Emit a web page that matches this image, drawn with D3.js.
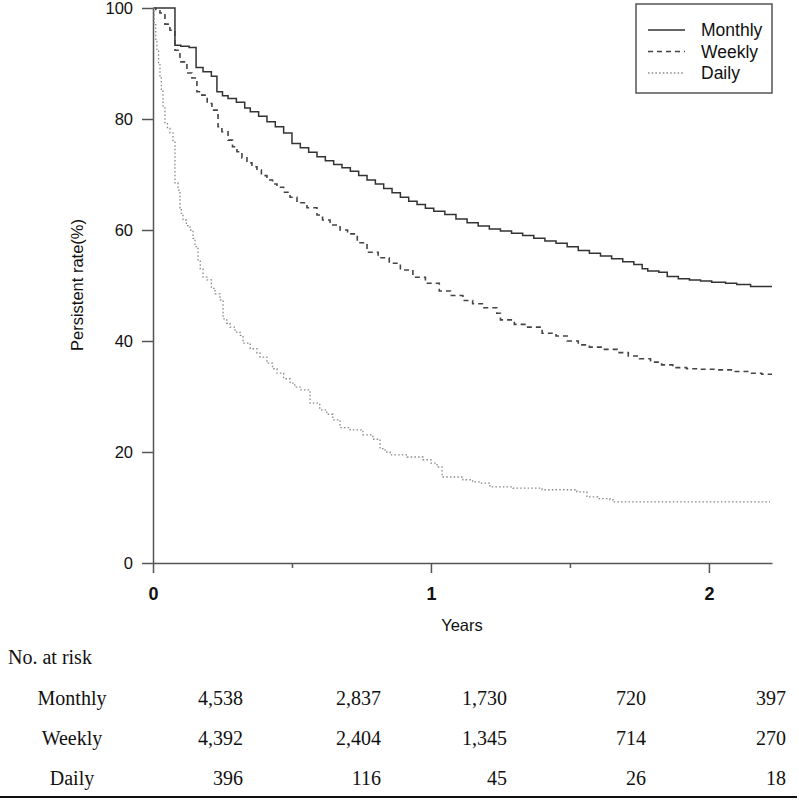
<!DOCTYPE html>
<html><head><meta charset="utf-8">
<script src="https://cdn.jsdelivr.net/npm/d3@7/dist/d3.min.js"></script>
<style>body{margin:0;background:#fff}svg{display:block}</style>
</head><body>
<svg id="c" width="799" height="806"></svg>
<script>
// Kaplan-Meier style data (time in years, persistence %)
const monthlyT = [0,0.079,0.10,0.13,0.155,0.18,0.21,0.23,0.25,0.27,0.30,0.33,0.35,0.38,0.41,0.44,0.47,0.50,0.53,0.56,0.59,0.62,0.65,0.68,0.71,0.74,0.77,0.80,0.83,0.86,0.89,0.92,0.95,0.98,1.01,1.05,1.09,1.13,1.17,1.21,1.25,1.29,1.33,1.37,1.41,1.45,1.49,1.53,1.57,1.61,1.65,1.69,1.73,1.76,1.78,1.82,1.85,1.89,1.93,1.97,2.01,2.06,2.10,2.15,2.227];
const monthlyV = [100,93.3,93.1,92.9,89.3,88.5,87.7,84.9,84.2,83.7,83.0,82.0,81.3,80.5,79.5,78.6,77.5,75.6,74.8,74.0,73.2,72.5,71.8,71.2,70.6,69.8,69.0,68.3,67.5,66.7,65.9,65.2,64.6,63.9,63.4,62.8,62.0,61.3,60.7,60.2,59.8,59.4,59.0,58.5,58.0,57.6,57.0,56.3,55.8,55.3,54.8,54.3,53.8,53.0,52.6,52.4,51.6,51.2,51.0,50.8,50.6,50.4,50.2,49.8,49.8];

const weeklyT = [0,0.01,0.025,0.043,0.061,0.079,0.097,0.122,0.14,0.158,0.176,0.195,0.212,0.234,0.248,0.27,0.286,0.302,0.32,0.338,0.356,0.374,0.39,0.41,0.43,0.446,0.47,0.493,0.518,0.554,0.59,0.61,0.637,0.673,0.70,0.735,0.77,0.81,0.85,0.89,0.935,0.98,1.03,1.07,1.115,1.15,1.19,1.237,1.25,1.30,1.345,1.40,1.45,1.49,1.53,1.57,1.62,1.67,1.71,1.75,1.79,1.83,1.87,1.92,1.97,2.03,2.09,2.15,2.19,2.227];
const weeklyV = [100,99.5,99.1,97.1,96.0,92.4,90.3,88.3,87.4,84.9,84.3,82.8,81.6,78.6,77.7,76.2,75.0,74.1,73.0,72.1,71.4,70.8,69.8,69.0,68.3,67.7,66.8,65.9,64.9,64.0,62.7,61.8,60.9,60.0,59.3,57.7,56.0,55.0,54.0,52.8,51.5,50.4,49.0,48.2,47.3,46.7,46.0,45.0,43.8,43.0,42.5,41.4,40.9,40.0,39.3,38.9,38.5,37.9,37.3,36.8,36.2,35.7,35.2,35.0,34.9,34.8,34.5,34.2,34.0,34.0];

const dailyT = [0,0.004,0.01,0.014,0.02,0.025,0.03,0.036,0.043,0.052,0.061,0.072,0.079,0.09,0.097,0.102,0.108,0.12,0.133,0.144,0.151,0.162,0.17,0.18,0.194,0.21,0.223,0.241,0.252,0.265,0.277,0.295,0.313,0.324,0.35,0.374,0.385,0.41,0.43,0.446,0.47,0.493,0.51,0.529,0.565,0.6,0.625,0.647,0.673,0.709,0.755,0.791,0.817,0.835,0.853,0.914,0.971,1.0,1.022,1.04,1.115,1.15,1.176,1.212,1.295,1.4,1.525,1.561,1.60,1.644,1.655,2.22];
const dailyV = [100,97,94,92.4,90,87.6,85,82,79.3,78.3,77.5,76,68.5,67.2,64,63,61.8,60.8,60,58.5,57,54.6,53,51.5,51.0,49.5,48.5,47.4,44,43.2,42.5,41.6,41,39.6,38.6,37.8,37.1,36,35,34.2,33.2,32.4,31.7,31.2,28.8,27.6,26.8,25.8,24.4,24.0,23.1,22.3,20.6,20.0,19.5,19.1,18.6,18.0,17.3,15.5,15.0,14.6,14.4,13.7,13.5,13.2,12.8,11.9,11.6,11.4,11.0,11.0];

const seriesNames = ["Monthly","Weekly","Daily"];
const yTicks = [0,20,40,60,80,100];
const xMajorTicks = [0,1,2];
const xMinorTicks = [0.5,1.5];

const riskGroups = ["Monthly","Weekly","Daily"];
const riskMonthly = ["4,538","2,837","1,730","720","397"];
const riskWeekly = ["4,392","2,404","1,345","714","270"];
const riskDaily = ["396","116","45","26","18"];

const svg = d3.select("#c");
const x = d3.scaleLinear().domain([0, 2.227]).range([153, 772]);
const y = d3.scaleLinear().domain([0, 100]).range([563, 8]);
const axisCol = "#555";
const sans = "Liberation Sans, Arial, sans-serif";

// Y axis
const yAx = svg.append("g").attr("transform","translate(153,0)")
  .call(d3.axisLeft(y).tickValues(yTicks).tickSize(11).tickPadding(9).tickSizeOuter(0));
yAx.select(".domain").attr("stroke",axisCol).attr("stroke-width",1.5);
yAx.selectAll(".tick line").attr("stroke",axisCol).attr("stroke-width",1.5);
yAx.selectAll(".tick text").attr("font-family",sans).attr("font-size",16.5).attr("fill","#111");

// X axis
const xAx = svg.append("g").attr("transform","translate(0,563)")
  .call(d3.axisBottom(x).tickValues(xMajorTicks).tickSize(10).tickPadding(14).tickSizeOuter(0).tickFormat(d3.format("d")));
xAx.select(".domain").attr("stroke",axisCol).attr("stroke-width",1.5);
xAx.selectAll(".tick line").attr("stroke",axisCol).attr("stroke-width",1.5);
xAx.selectAll(".tick text").attr("font-family",sans).attr("font-size",18).attr("font-weight","bold").attr("fill","#111");
const xMin = svg.append("g").attr("transform","translate(0,563)")
  .call(d3.axisBottom(x).tickValues(xMinorTicks).tickSize(5).tickFormat(""));
xMin.select(".domain").remove();
xMin.selectAll(".tick line").attr("stroke",axisCol).attr("stroke-width",1.5);

svg.append("text").attr("x",462).attr("y",631).attr("text-anchor","middle")
  .attr("font-family",sans).attr("font-size",16.5).attr("fill","#111").text("Years");
svg.append("text").attr("transform","translate(83,285) rotate(-90)").attr("text-anchor","middle")
  .attr("font-family",sans).attr("font-size",16.5).attr("fill","#111").text("Persistent rate(%)");

// Curves
const line = d3.line().x(d=>x(d[0])).y(d=>y(d[1])).curve(d3.curveStepAfter);
const styles = [
  {col:"#333", dash:null, w:1.5},
  {col:"#444", dash:"5,4", w:1.6},
  {col:"#888", dash:"1.5,2.2", w:1.3}
];
const data = [d3.zip(monthlyT,monthlyV), d3.zip(weeklyT,weeklyV), d3.zip(dailyT,dailyV)];
data.forEach((d,i)=>{
  svg.append("path").attr("d",line(d)).attr("fill","none")
    .attr("stroke",styles[i].col).attr("stroke-width",styles[i].w)
    .attr("stroke-dasharray",styles[i].dash);
});

// Legend
const lg = svg.append("g");
lg.append("rect").attr("x",636).attr("y",4).attr("width",136).attr("height",89)
  .attr("fill","#fff").attr("stroke","#555").attr("stroke-width",1.5);
seriesNames.forEach((n,i)=>{
  const yy = 30 + i*21.5;
  lg.append("line").attr("x1",648).attr("x2",685).attr("y1",yy).attr("y2",yy)
    .attr("stroke",styles[i].col).attr("stroke-width",styles[i].w).attr("stroke-dasharray",styles[i].dash);
  lg.append("text").attr("x",701).attr("y",yy).attr("dy","0.35em")
    .attr("font-family",sans).attr("font-size",17.5).attr("fill","#111").text(n);
});

// Risk table
const serif = "Liberation Serif, Times New Roman, serif";
svg.append("text").attr("x",8).attr("y",664).attr("font-family",serif).attr("font-size",20).attr("fill","#111").text("No. at risk");
const colX = [243,381,507,646,786];
const rows = [riskMonthly, riskWeekly, riskDaily];
rows.forEach((r,i)=>{
  const yy = 705 + i*40;
  svg.append("text").attr("x",72).attr("y",yy).attr("text-anchor","middle")
    .attr("font-family",serif).attr("font-size",20).attr("fill","#111").text(riskGroups[i]);
  r.forEach((v,j)=>{
    svg.append("text").attr("x",colX[j]).attr("y",yy).attr("text-anchor","end")
      .attr("font-family",serif).attr("font-size",20).attr("fill","#111").text(v);
  });
});
svg.append("line").attr("x1",0).attr("x2",797).attr("y1",797).attr("y2",797).attr("stroke","#111").attr("stroke-width",2);
</script>
</body></html>
